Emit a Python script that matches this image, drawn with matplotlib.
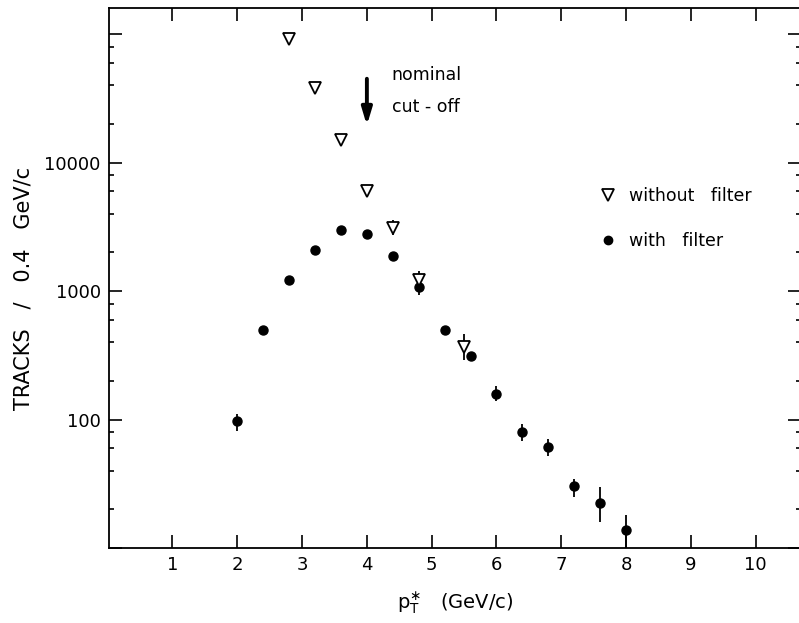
import matplotlib
matplotlib.use("Agg")
import matplotlib.pyplot as plt
from matplotlib.ticker import FixedLocator, FixedFormatter, NullFormatter
from matplotlib.lines import Line2D
import numpy as np

# -- data --------------------------------
pt_with = [2.0, 2.4, 2.8, 3.2, 3.6, 4.0, 4.4, 4.8, 5.2, 5.6, 6.0, 6.4, 6.8, 7.2, 7.6, 8.0]
n_with = [97, 500, 1230, 2100, 2970, 2760, 1890, 1070, 500, 311, 157, 80, 61, 30.4, 22.5, 13.7]
# lower / upper end of error bar (same as value = no visible bar)
lo_with = [81, 500, 1230, 2100, 2970, 2760, 1890, 935, 500, 311, 139, 68, 52, 25, 15.9, 10]
hi_with = [110, 500, 1230, 2100, 2970, 2760, 1890, 1200, 500, 311, 183, 93, 70, 34.7, 29.8, 18.1]

pt_without = [2.8, 3.2, 3.6, 4.0, 4.4, 4.8, 5.5]
n_without = [91600, 38000, 15000, 6050, 3100, 1212, 366]
lo_without = [91600, 38000, 15000, 6050, 2750, 1000, 291]
hi_without = [91600, 38000, 15000, 6050, 3560, 1440, 461]

x_ticks = [1, 2, 3, 4, 5, 6, 7, 8, 9, 10]
y_major = [10, 100, 1000, 10000, 100000]
y_labels = ['', '100', '1000', '10000', '']

cutoff_pt = 4.0

fig = plt.figure(figsize=(7.99, 6.23), dpi=100)
ax = fig.add_axes([109 / 799, 1 - 548 / 623, (801 - 109) / 799, (548 - 8) / 623])

n_with = np.array(n_with)
n_without = np.array(n_without)
err_w = [n_with - np.array(lo_with), np.array(hi_with) - n_with]
err_wo = [n_without - np.array(lo_without), np.array(hi_without) - n_without]

ax.errorbar(pt_with, n_with, yerr=err_w, fmt='o', color='black', ms=6.5,
            elinewidth=1.3, capsize=0, zorder=3)
ax.errorbar(pt_without, n_without, yerr=err_wo, fmt='v', color='black', mfc='white',
            mew=1.3, ms=9, elinewidth=1.3, capsize=0, zorder=4)

ax.set_yscale('log')
ax.set_xlim(0.02, 10.7)
ax.set_ylim(10, 160000)

ax.xaxis.set_major_locator(FixedLocator(x_ticks))
ax.yaxis.set_major_locator(FixedLocator(y_major))
ax.yaxis.set_major_formatter(FixedFormatter(y_labels))
minors = [m * 10 ** e for e in range(1, 5) for m in (2, 4, 6, 8)]
ax.yaxis.set_minor_locator(FixedLocator(minors))
ax.yaxis.set_minor_formatter(NullFormatter())
ax.xaxis.set_minor_locator(FixedLocator([]))

ax.tick_params(which='both', direction='in', top=True, right=True, width=1.2,
               labelsize=13, colors='black')
ax.tick_params(which='major', length=9.5, pad=6)
ax.tick_params(which='minor', length=3.5)
for s in ax.spines.values():
    s.set_linewidth(1.3)
ax.spines['right'].set_visible(False)

ax.set_xlabel(r'$\mathrm{p}_\mathrm{T}^{\ast}$   (GeV/c)', fontsize=14, labelpad=12)
ax.set_ylabel('TRACKS   /   0.4   GeV/c', fontsize=15, labelpad=8, y=0.48)

# arrow for nominal cut-off
ax.annotate('', xy=(cutoff_pt, 19500), xytext=(cutoff_pt, 45000),
            arrowprops=dict(arrowstyle='-|>,head_length=1.0,head_width=0.3',
                            color='black', lw=2.8, shrinkA=0, shrinkB=0))
ax.text(cutoff_pt + 0.38, 48500, 'nominal', fontsize=12.5, va='center', ha='left')
ax.text(cutoff_pt + 0.38, 27300, 'cut - off', fontsize=12.5, va='center', ha='left')

h_without = Line2D([], [], ls='none', marker='v', color='black', mfc='white', mew=1.3, ms=8)
h_with = Line2D([], [], ls='none', marker='o', color='black', ms=6)
ax.legend(handles=[h_without, h_with], labels=['without   filter', 'with   filter'],
          loc='upper left', bbox_to_anchor=(591 / 799, 1 - 178 / 623),
          bbox_transform=fig.transFigure, frameon=False, fontsize=12.5,
          handlelength=1.0, handletextpad=0.7, labelspacing=1.6, borderpad=0)

plt.savefig('out.png', dpi=100)
